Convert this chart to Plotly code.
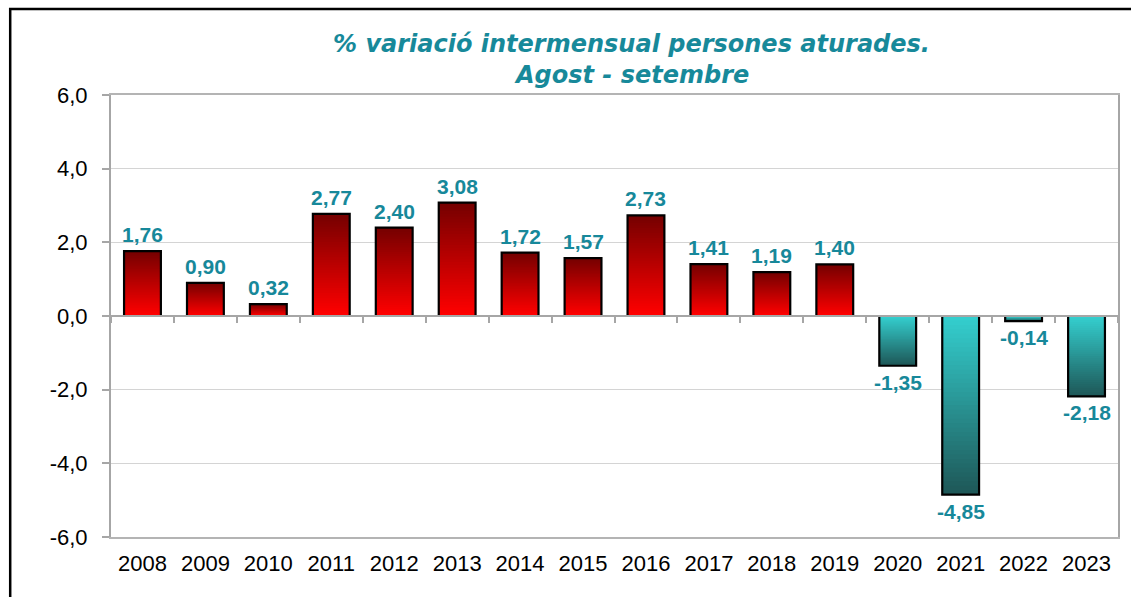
import plotly.graph_objects as go

years = ["2008", "2009", "2010", "2011", "2012", "2013", "2014", "2015",
         "2016", "2017", "2018", "2019", "2020", "2021", "2022", "2023"]
values = [1.76, 0.90, 0.32, 2.77, 2.40, 3.08, 1.72, 1.57,
          2.73, 1.41, 1.19, 1.40, -1.35, -4.85, -0.14, -2.18]
y_ticks = [-6, -4, -2, 0, 2, 4, 6]

title_line1 = "<b><i>% variació intermensual persones aturades.</i></b>"
title_line2 = "<b><i>Agost - setembre</i></b>"
label_color = "#17889a"
title_color = "#17899a"

# gradient endpoints: (near zero, far from zero)
pos_near, pos_far = (255, 0, 0), (118, 0, 0)
neg_near, neg_far = (52, 206, 206), (30, 88, 88)


def mix(a, b, t):
    return "rgb({},{},{})".format(*[round(a[i] + (b[i] - a[i]) * t) for i in range(3)])


def fmt(v, d):
    return f"{v:.{d}f}".replace(".", ",")


N = 40
BW = 0.585
fig = go.Figure()

# gradient: full bar in the far colour, then progressively shorter bars toward the near colour
for k in range(N):
    frac = 1 - k / N
    t = 1 - k / (N - 1)
    cols = [mix(pos_near, pos_far, t) if v >= 0 else mix(neg_near, neg_far, t) for v in values]
    fig.add_trace(go.Bar(
        x=years, y=[v * frac for v in values], width=BW,
        marker=dict(color=cols, line=dict(width=0)),
        hoverinfo="skip", showlegend=False,
    ))

# outline
fig.add_trace(go.Bar(
    x=years, y=values, width=BW,
    marker=dict(color="rgba(0,0,0,0)", line=dict(color="black", width=2.2)),
    hovertemplate="%{x}: %{y:.2f}<extra></extra>", showlegend=False,
))

# axis at zero with category boundary ticks
fig.add_trace(go.Scatter(x=years, y=[None] * len(years), xaxis="x2",
                         showlegend=False, hoverinfo="skip"))

annotations = []
for i, v in enumerate(values):
    annotations.append(dict(
        x=i, y=v, xref="x", yref="y", text="<b>" + fmt(v, 2) + "</b>",
        showarrow=False, yanchor="bottom" if v >= 0 else "top",
        yshift=3 if v >= 0 else -3,
        font=dict(family="Liberation Sans, Arial", size=21, color=label_color),
    ))
annotations.append(dict(x=0.5173, y=1.0800, xref="paper", yref="paper", text=title_line1,
                        showarrow=False, xanchor="center", yanchor="bottom",
                        font=dict(family="DejaVu Sans", size=24, color=title_color)))
annotations.append(dict(x=0.5173, y=1.0100, xref="paper", yref="paper", text=title_line2,
                        showarrow=False, xanchor="center", yanchor="bottom",
                        font=dict(family="DejaVu Sans", size=24, color=title_color)))

fig.update_layout(
    width=1131, height=597,
    margin=dict(l=111, r=11, t=95, b=60),
    paper_bgcolor="white", plot_bgcolor="white",
    barmode="overlay",
    font=dict(family="Liberation Sans, Arial", color="black"),
    annotations=annotations,
    xaxis=dict(type="category", categoryorder="array", categoryarray=years,
               showline=True, linecolor="#b4b4b4", linewidth=2, mirror=True,
               ticks="", showgrid=False, ticklabelstandoff=6,
               tickfont=dict(size=22, color="black"), range=[-0.5, len(years) - 0.5]),
    xaxis2=dict(type="category", categoryorder="array", categoryarray=years,
                overlaying="x", anchor="free", position=0.5, side="bottom",
                showline=True, linecolor="#a6a6a6", linewidth=2,
                ticks="outside", tickson="boundaries", ticklen=6, tickcolor="#a6a6a6",
                tickwidth=1.5, showticklabels=False, showgrid=False,
                range=[-0.5, len(years) - 0.5]),
    yaxis=dict(range=[-6, 6], tickvals=y_ticks,
               ticktext=[fmt(t, 1) for t in y_ticks],
               showline=True, linecolor="#a6a6a6", linewidth=2, mirror=True,
               ticks="outside", ticklen=7, tickcolor="#a6a6a6", tickwidth=1.5,
               ticklabelstandoff=10,
               showgrid=True, gridcolor="#d4d4d4", gridwidth=1.3,
               zeroline=False, tickfont=dict(size=22, color="black")),
    shapes=[dict(type="rect", xref="paper", yref="paper",
                 x0=-0.1001, x1=1.05, y0=-0.2, y1=1.1945,
                 line=dict(color="black", width=2.5), fillcolor="rgba(0,0,0,0)", layer="above")],
)

fig.write_html("out.html", config={"displayModeBar": False},
               post_script="document.body.style.margin='0';")
